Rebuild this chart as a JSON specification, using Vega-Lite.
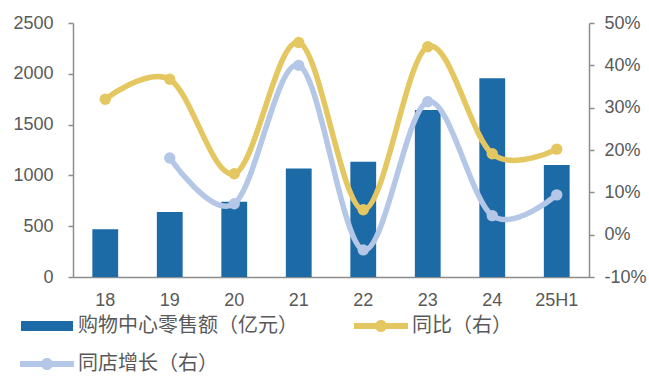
{
  "$schema": "https://vega.github.io/schema/vega-lite/v6.json",
  "width": 516,
  "height": 254,
  "autosize": "none",
  "padding": {"left": 73, "top": 23, "right": 60, "bottom": 99},
  "background": "white",
  "datasets": {
    "sales": [
      {"year": "18", "sales": 470},
      {"year": "19", "sales": 640},
      {"year": "20", "sales": 740},
      {"year": "21", "sales": 1067},
      {"year": "22", "sales": 1135},
      {"year": "23", "sales": 1643},
      {"year": "24", "sales": 1957},
      {"year": "25H1", "sales": 1103}
    ],
    "growth": [
      {"year": "18", "series": "同比（右）", "rate": 0.32},
      {"year": "19", "series": "同比（右）", "rate": 0.367},
      {"year": "20", "series": "同比（右）", "rate": 0.144},
      {"year": "21", "series": "同比（右）", "rate": 0.454},
      {"year": "22", "series": "同比（右）", "rate": 0.059},
      {"year": "23", "series": "同比（右）", "rate": 0.444},
      {"year": "24", "series": "同比（右）", "rate": 0.191},
      {"year": "25H1", "series": "同比（右）", "rate": 0.202},
      {"year": "19", "series": "同店增长（右）", "rate": 0.181},
      {"year": "20", "series": "同店增长（右）", "rate": 0.073},
      {"year": "21", "series": "同店增长（右）", "rate": 0.40},
      {"year": "22", "series": "同店增长（右）", "rate": -0.036},
      {"year": "23", "series": "同店增长（右）", "rate": 0.314},
      {"year": "24", "series": "同店增长（右）", "rate": 0.045},
      {"year": "25H1", "series": "同店增长（右）", "rate": 0.094}
    ]
  },
  "config": {
    "view": {"stroke": null},
    "axis": {
      "labelFont": "Liberation Sans",
      "labelFontSize": 18,
      "labelColor": "#595959",
      "domainColor": "#8c8c8c",
      "domainWidth": 1.5,
      "tickColor": "#8c8c8c",
      "tickWidth": 1.5,
      "grid": false,
      "title": null
    },
    "legend": {
      "orient": "none",
      "legendX": -53,
      "legendY": 293,
      "direction": "horizontal",
      "columns": 2,
      "padding": 0,
      "symbolSize": 400,
      "symbolOffset": 17,
      "labelOffset": 21,
      "rowPadding": 18,
      "columnPadding": 56,
      "labelFont": "Noto Sans CJK SC",
      "labelFontSize": 20,
      "labelColor": "#595959",
      "labelLimit": 500
    }
  },
  "encoding": {
    "x": {
      "field": "year",
      "type": "nominal",
      "scale": {
        "domain": ["18", "19", "20", "21", "22", "23", "24", "25H1"],
        "paddingInner": 0.6,
        "paddingOuter": 0.3
      },
      "axis": {"labelAngle": 0, "ticks": false, "labelPadding": 14}
    }
  },
  "layer": [
    {
      "data": {"name": "sales"},
      "mark": {"type": "bar", "color": "#1c6aa6"},
      "encoding": {
        "y": {
          "field": "sales",
          "type": "quantitative",
          "scale": {"domain": [0, 2500], "nice": false},
          "axis": {"values": [0, 500, 1000, 1500, 2000, 2500], "format": "d", "tickSize": 5, "labelPadding": 15}
        },
        "color": {
          "datum": "购物中心零售额（亿元）",
          "type": "nominal",
          "title": null,
          "scale": {
            "domain": ["购物中心零售额（亿元）", "同比（右）", "同店增长（右）"],
            "range": ["#1c6aa6", "#e5c761", "#b4c7e7"]
          },
          "legend": {
            "title": null,
            "encode": {
              "symbols": {
                "update": {
                  "shape": {"signal": "datum.value === '购物中心零售额（亿元）' ? 'M-2.6,-0.5H2.6V0.5H-2.6Z' : 'M-2.7,-0.3H2.7V0.3H-2.7Z M-0.6,0A0.6,0.6 0 1,1 0.6,0A0.6,0.6 0 1,1 -0.6,0Z'"},
                  "fill": {"scale": "color", "field": "value"},
                  "stroke": {"value": "transparent"},
                  "strokeWidth": {"value": 0},
                  "opacity": {"value": 1}
                }
              }
            }
          }
        }
      }
    },
    {
      "data": {"name": "growth"},
      "transform": [{"filter": "datum.series === '同比（右）'"}],
      "mark": {"type": "line", "interpolate": "cardinal", "strokeWidth": 5.5, "strokeCap": "round", "point": {"filled": true, "size": 130, "opacity": 1}},
      "encoding": {
        "y": {
          "field": "rate",
          "type": "quantitative",
          "scale": {"domain": [-0.1, 0.5], "nice": false},
          "axis": {
            "orient": "right",
            "values": [-0.1, 0, 0.1, 0.2, 0.3, 0.4, 0.5],
            "labelExpr": "round(datum.value * 100) + '%'",
            "tickSize": 5,
            "labelPadding": 10
          }
        },
        "color": {"field": "series", "type": "nominal", "title": null}
      }
    },
    {
      "data": {"name": "growth"},
      "transform": [{"filter": "datum.series === '同店增长（右）'"}],
      "mark": {"type": "line", "interpolate": "cardinal", "strokeWidth": 5.5, "strokeCap": "round", "point": {"filled": true, "size": 130, "opacity": 1}},
      "encoding": {
        "y": {"field": "rate", "type": "quantitative", "scale": {"domain": [-0.1, 0.5], "nice": false}, "axis": null},
        "color": {"field": "series", "type": "nominal", "title": null}
      }
    }
  ],
  "resolve": {"scale": {"y": "independent"}}
}
